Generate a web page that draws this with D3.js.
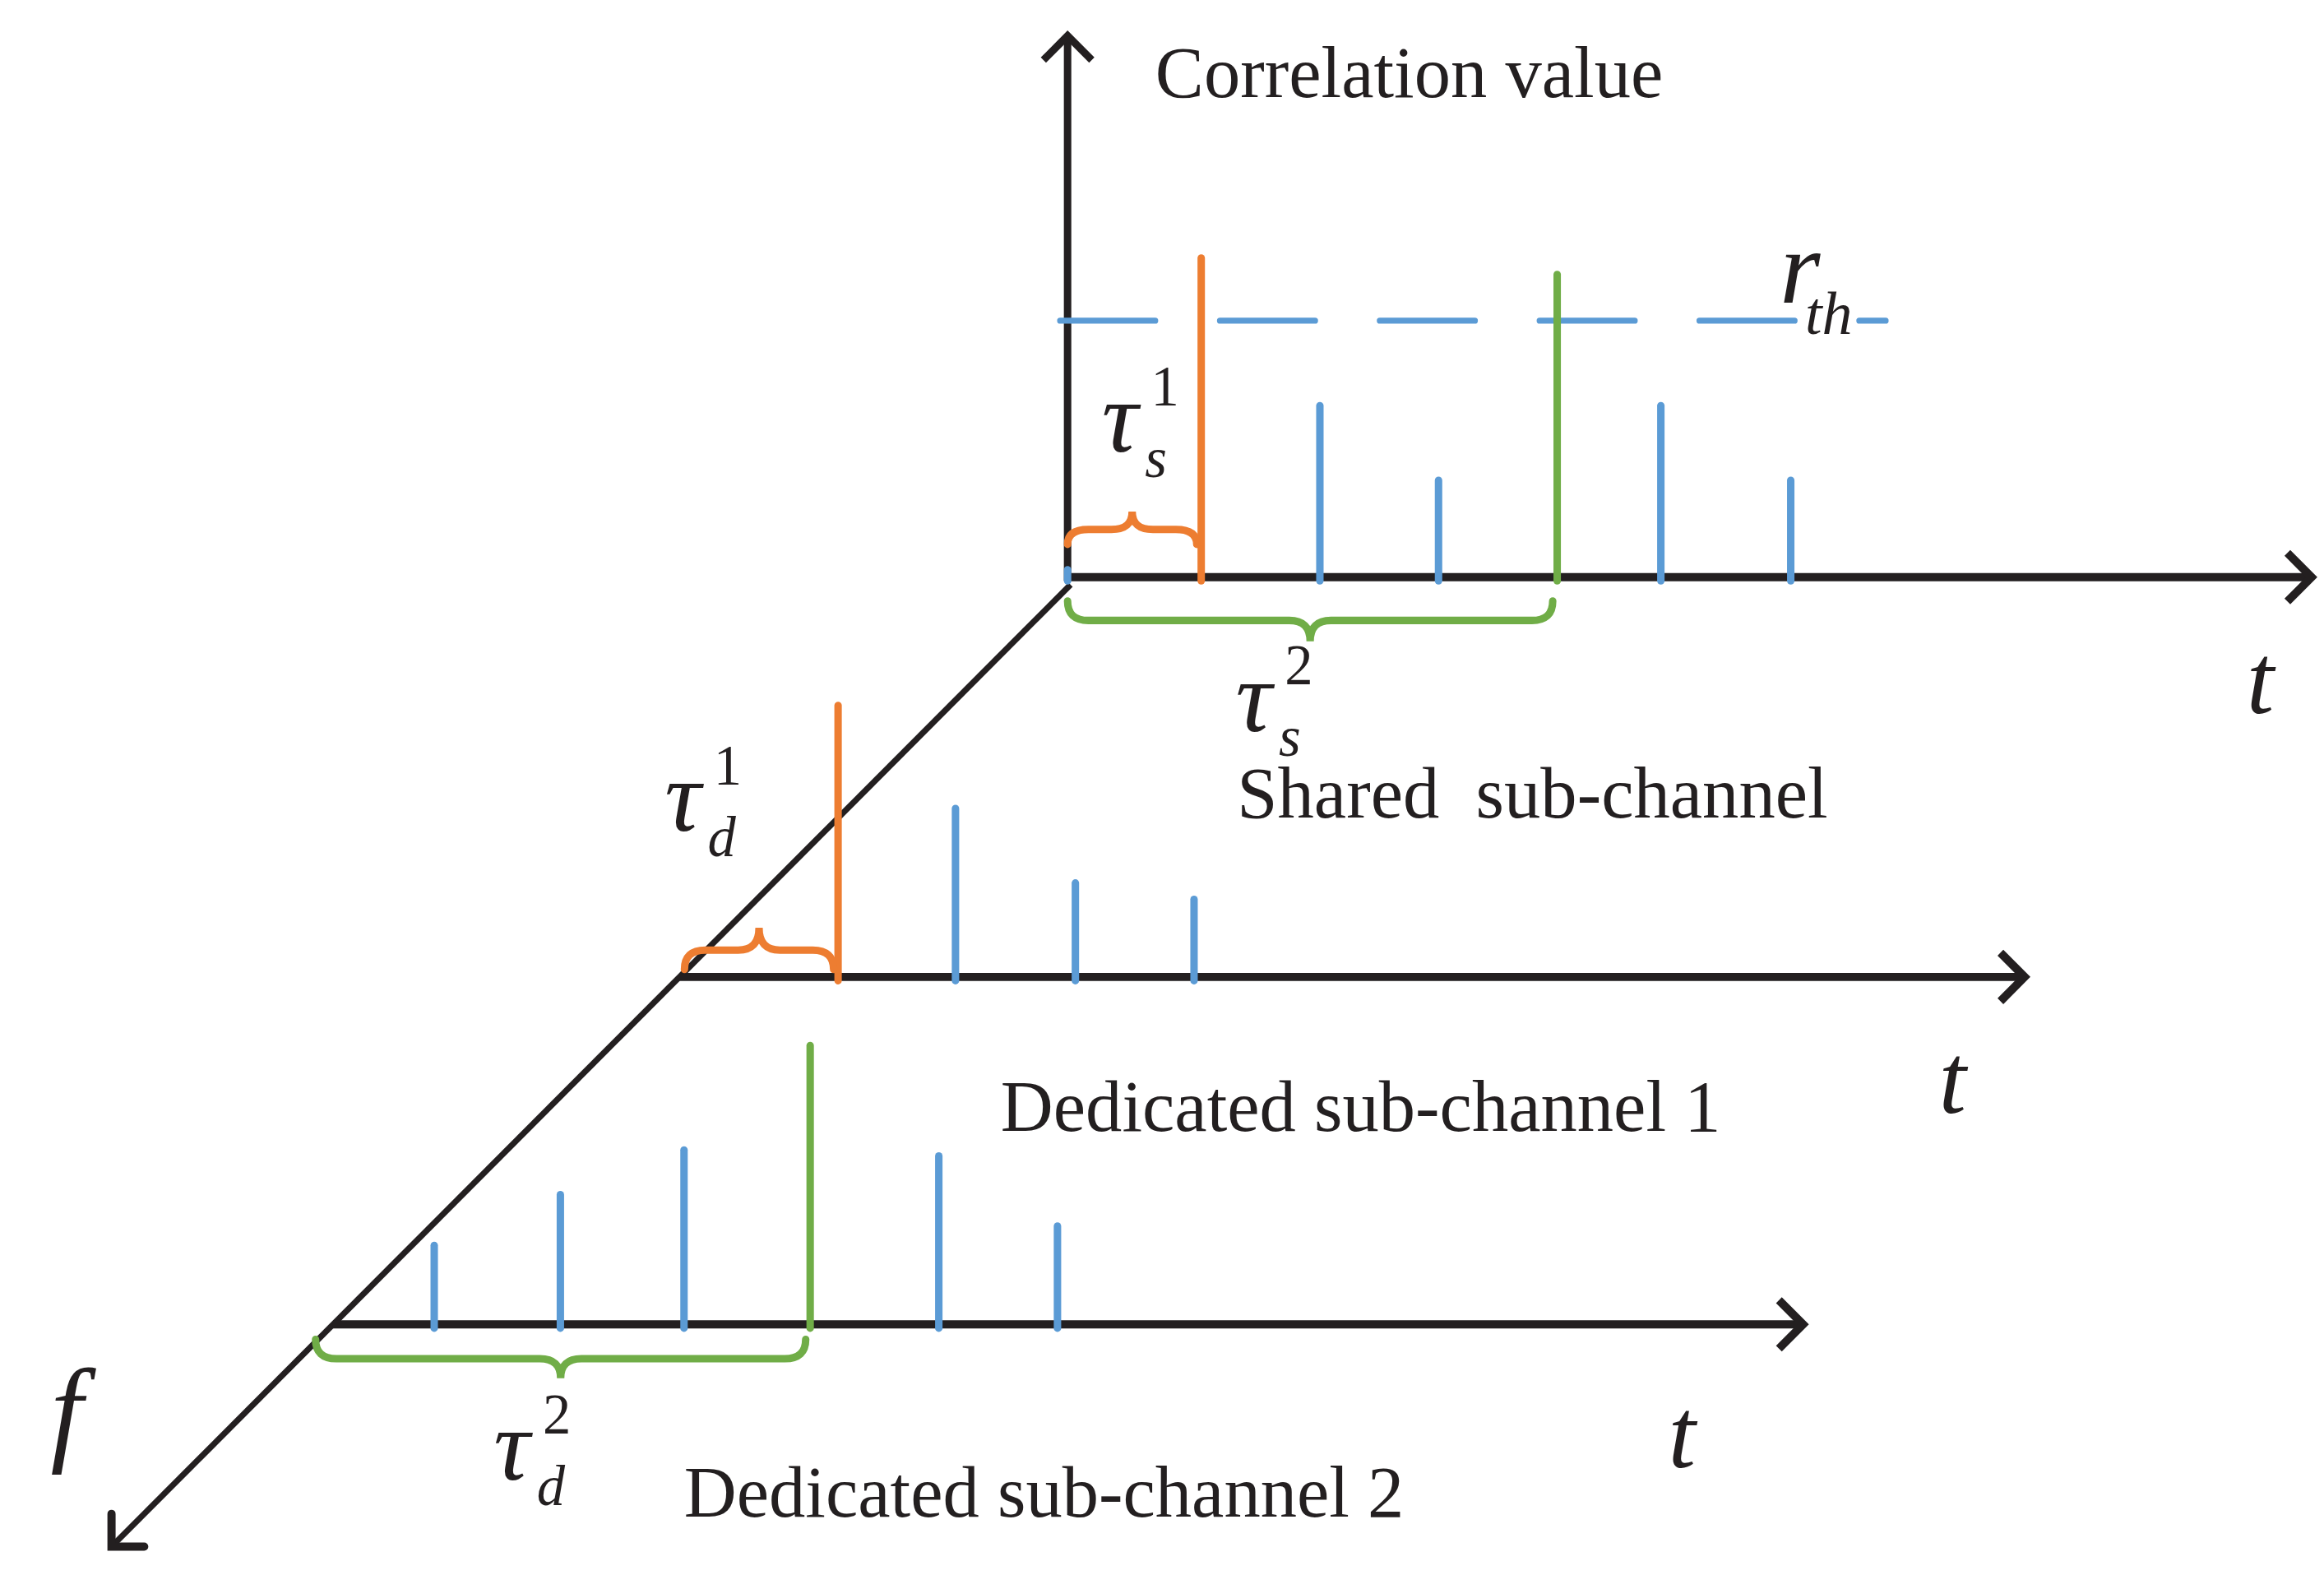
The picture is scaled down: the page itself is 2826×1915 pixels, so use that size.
<!DOCTYPE html>
<html>
<head>
<meta charset="utf-8">
<script src="https://cdn.jsdelivr.net/npm/d3@7"></script>
<style>
body { margin: 0; background: #fff; }
text { font-family: "Liberation Serif", "Times New Roman", serif; fill: #231f20; }
</style>
</head>
<body>
<div class="chart"></div>
<script>
// sub-channels, back to front along the f axis
const channels = ['Shared  sub-channel', 'Dedicated sub-channel 1', 'Dedicated sub-channel 2'];

// correlation peaks: delay t (arb. units) and correlation value
const sharedT = [0, 10.7, 20.2, 29.7, 39.2, 47.5, 57.9];
const sharedV = [0.02, 0.856, 0.46, 0.26, 0.812, 0.46, 0.26];
const sharedK = ['path', 'first', 'path', 'path', 'second', 'path', 'path'];

const ded1T = [12.7, 22.1, 31.7, 41.2];
const ded1V = [0.728, 0.452, 0.252, 0.208];
const ded1K = ['first', 'path', 'path', 'path'];

const ded2T = [8.1, 18.2, 28.1, 38.2, 48.5, 58.0];
const ded2V = [0.212, 0.348, 0.468, 0.748, 0.452, 0.264];
const ded2K = ['path', 'path', 'path', 'second', 'path', 'path'];

const threshold = 0.688;   // r_th
const tMax = [99.6, 107.7, 117.7];
const vMax = 1.452;        // top of the correlation axis

// delay braces: channel, start t, peak index it ends on, side of the axis
const braces = [
  { ch: 0, from: 0, peak: 1, side: 'up' },
  { ch: 0, from: 0, peak: 4, side: 'down' },
  { ch: 1, from: 0.4, peak: 0, side: 'up' },
  { ch: 2, from: -1.4, peak: 3, side: 'down' }
];

// ---------- layout ----------
const W = 1563, H = 1056;
const depth = [0, 0.4078, 0.769];
const braceGap = [22, 16, 5, 10];     // distance of brace ends from the axis
const braceH = [[10, 12], [13, 14], [13, 15], [13, 13]];
const color = d3.scaleOrdinal()
  .domain(['path', 'first', 'second'])
  .range(['#5b9bd5', '#ed7d31', '#70ad47']);
const black = '#231f20';

let svg = d3.select('.chart').append('svg')
  .attr('width', 2826)
  .attr('height', 1915)
  .attr('viewBox', `0 0 ${W} ${H}`)
  .attr('preserveAspectRatio', 'none');

// f axis runs diagonally towards the viewer
const fx = d3.scaleLinear().domain([0, 1]).range([720, 75]);
const fy = d3.scaleLinear().domain([0, 1]).range([392, 1037]);

const peaks = [
  sharedT.map((t, i) => ({ t, v: sharedV[i], k: sharedK[i] })),
  ded1T.map((t, i) => ({ t, v: ded1V[i], k: ded1K[i] })),
  ded2T.map((t, i) => ({ t, v: ded2V[i], k: ded2K[i] }))
];

const xs = [], ys = [];
channels.forEach((c, i) => {
  // the shared channel sits on the corner of the value axis, just above the diagonal
  const ox = i === 0 ? fx(0) - 2 : fx(depth[i]);
  const oy = i === 0 ? fy(0) - 5 : fy(depth[i]);
  xs.push(d3.scaleLinear().domain([0, 100]).range([ox, ox + 840]));
  ys.push(d3.scaleLinear().domain([0, 1]).range([oy, oy - 250]));
});

function arrowHead(tip, angle, len, sw, cap) {
  const a1 = angle + Math.PI * 0.75, a2 = angle - Math.PI * 0.75;
  svg.append('path')
    .attr('d', `M${tip[0] + len * Math.cos(a1)},${tip[1] + len * Math.sin(a1)} L${tip[0]},${tip[1]} L${tip[0] + len * Math.cos(a2)},${tip[1] + len * Math.sin(a2)}`)
    .attr('fill', 'none')
    .attr('stroke', black)
    .attr('stroke-width', sw)
    .attr('stroke-linecap', cap || 'butt')
    .attr('stroke-linejoin', 'miter');
}

// diagonal f axis
const f0 = [fx(0), fy(0)], f1 = [fx(1), fy(1)];
svg.append('line')
  .attr('x1', f0[0]).attr('y1', f0[1])
  .attr('x2', f1[0]).attr('y2', f1[1])
  .attr('stroke', black).attr('stroke-width', 4);
arrowHead(f1, Math.atan2(f1[1] - f0[1], f1[0] - f0[0]), 22, 5.5, 'round');

// correlation value axis on the shared channel
svg.append('line')
  .attr('x1', xs[0](0)).attr('y1', ys[0](0) + 2.5)
  .attr('x2', xs[0](0)).attr('y2', ys[0](vMax))
  .attr('stroke', black).attr('stroke-width', 5);
arrowHead([xs[0](0), ys[0](vMax)], -Math.PI / 2, 23, 5);

// threshold
svg.append('line')
  .attr('x1', xs[0](-0.6)).attr('x2', xs[0](65.5))
  .attr('y1', ys[0](threshold)).attr('y2', ys[0](threshold))
  .attr('stroke', color('path'))
  .attr('stroke-width', 4)
  .attr('stroke-linecap', 'round')
  .attr('stroke-dasharray', '64,43.5');

// time axes
channels.forEach((c, i) => {
  svg.append('line')
    .attr('x1', xs[i](0)).attr('x2', xs[i](tMax[i]))
    .attr('y1', ys[i](0)).attr('y2', ys[i](0))
    .attr('stroke', black).attr('stroke-width', 5.5);
  arrowHead([xs[i](tMax[i]), ys[i](0)], 0, 23, 5.5);
});

// peaks
peaks.forEach((p, i) => {
  svg.append('g').selectAll('line')
    .data(p)
    .join('line')
    .attr('x1', d => xs[i](d.t)).attr('x2', d => xs[i](d.t))
    .attr('y1', ys[i](0) + 2.5)
    .attr('y2', d => ys[i](d.v))
    .attr('stroke', d => color(d.k))
    .attr('stroke-width', 5)
    .attr('stroke-linecap', 'round');
});

// braces
function bracePath(x1, x2, y0, dir, hh) {
  const r = 14, m = (x1 + x2) / 2;
  const y1 = y0 + hh[0] * dir, y2 = y1 + hh[1] * dir;
  return `M${x1},${y0} Q${x1},${y1} ${x1 + r},${y1} L${m - r},${y1} Q${m},${y1} ${m},${y2} Q${m},${y1} ${m + r},${y1} L${x2 - r},${y1} Q${x2},${y1} ${x2},${y0}`;
}
braces.forEach((b, j) => {
  const dir = b.side === 'up' ? -1 : 1;
  const y0 = ys[b.ch](0) + dir * braceGap[j];
  const pk = peaks[b.ch][b.peak];
  svg.append('path')
    .attr('d', bracePath(xs[b.ch](b.from), xs[b.ch](pk.t) - 3, y0, dir, braceH[j]))
    .attr('fill', 'none')
    .attr('stroke', color(pk.k))
    .attr('stroke-width', 5)
    .attr('stroke-linecap', 'round');
});

// labels
svg.append('text').attr('x', 777).attr('y', 65)
  .attr('font-size', 49).text('Correlation value');

const chLabel = [[832, 548], [673, 758], [460, 1017]];
channels.forEach((c, i) => {
  svg.append('text')
    .attr('x', chLabel[i][0]).attr('y', chLabel[i][1])
    .attr('font-size', 49)
    .attr('xml:space', 'preserve')
    .style('white-space', 'pre')
    .text(c);
});

const tLabel = [[1511, 478], [1304, 746], [1122, 984]];
tLabel.forEach(p => {
  svg.append('text').attr('x', p[0]).attr('y', p[1])
    .attr('font-size', 66).attr('font-style', 'italic').text('t');
});

svg.append('text').attr('x', 34).attr('y', 972)
  .attr('font-size', 78).attr('font-style', 'italic').text('f');

// r_th
svg.append('text').attr('x', 1197).attr('y', 203)
  .attr('font-size', 70).attr('font-style', 'italic').text('r');
svg.append('text').attr('x', 1214).attr('y', 224)
  .attr('font-size', 41).attr('font-style', 'italic').text('th');

// tau labels
function tau(x, y, sub, sup) {
  svg.append('text').attr('x', x).attr('y', y)
    .attr('font-size', 68).attr('font-style', 'italic').text('τ');
  svg.append('text').attr('x', x + 33).attr('y', y - 31)
    .attr('font-size', 38).text(sup);
  svg.append('text').attr('x', x + 29).attr('y', y + 17)
    .attr('font-size', 38).attr('font-style', 'italic').text(sub);
}
tau(741, 303, 's', '1');
tau(831, 490, 's', '2');
tau(447, 557, 'd', '1');
tau(332, 992, 'd', '2');
</script>
</body>
</html>
